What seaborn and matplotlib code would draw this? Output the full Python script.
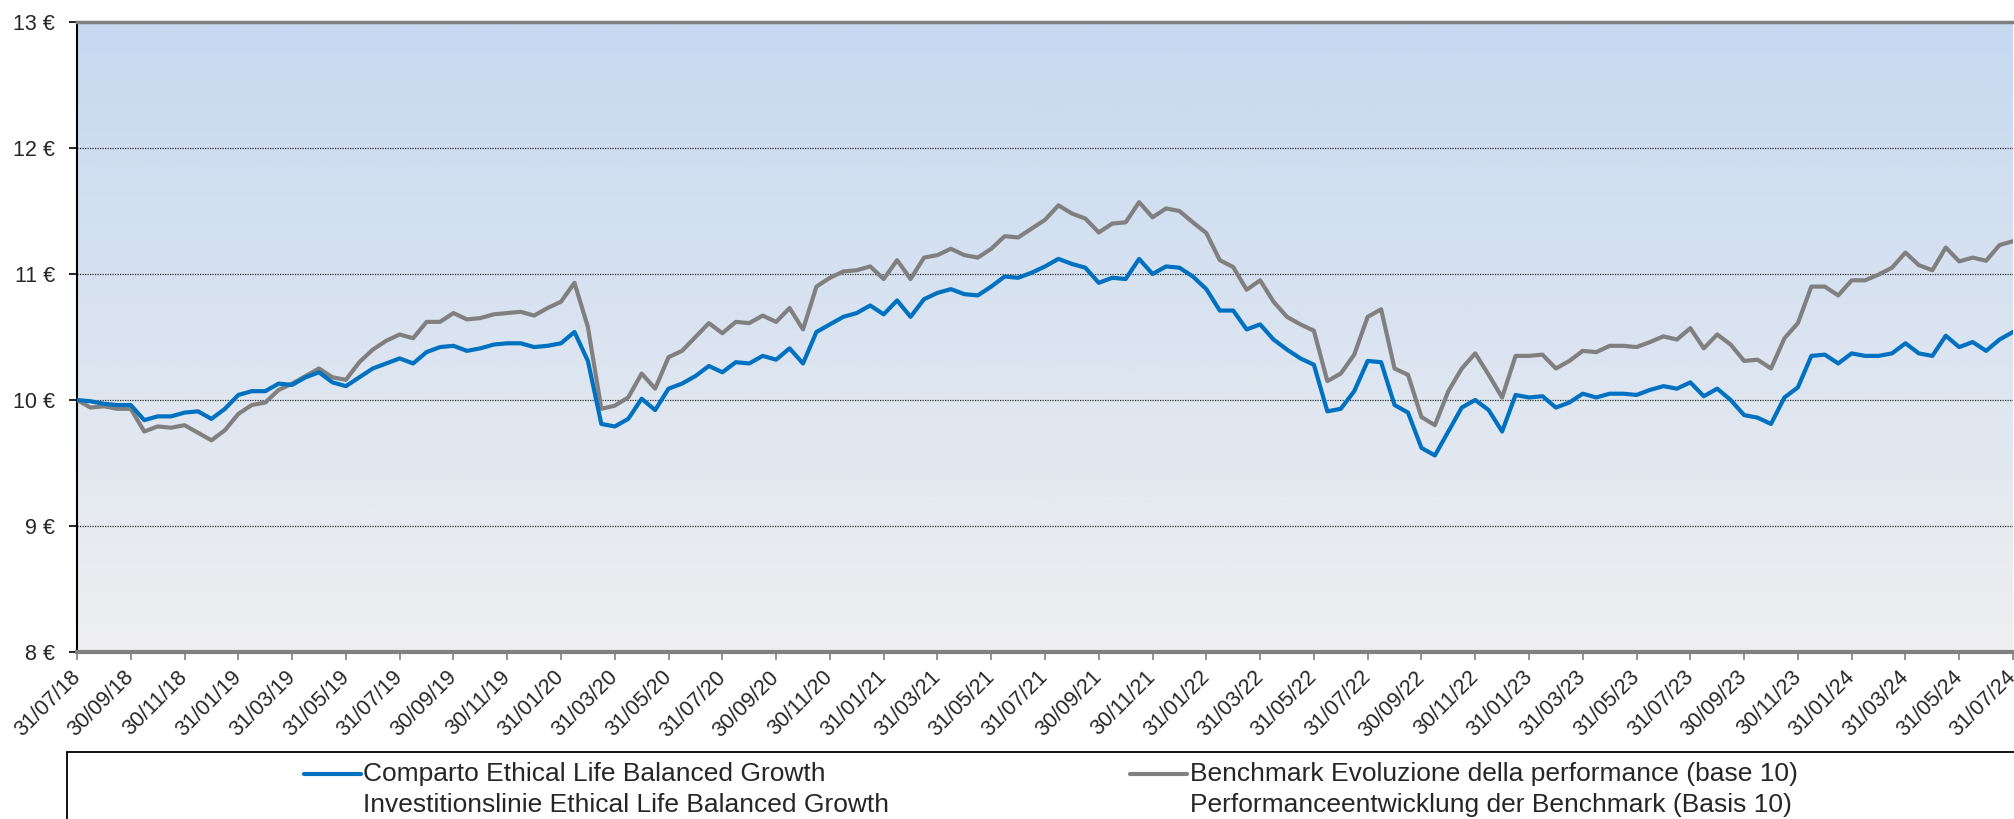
import numpy as np
import pandas as pd
import seaborn as sns
import matplotlib.pyplot as plt
from matplotlib.colors import LinearSegmentedColormap
from matplotlib.lines import Line2D
from matplotlib.patches import Rectangle

# values (two points per month, 31/07/18 .. 31/07/24)
fund = [
    10.00, 9.99, 9.97, 9.96, 9.96, 9.84, 9.87, 9.87, 9.90, 9.91,
    9.85, 9.93, 10.04, 10.07, 10.07, 10.13, 10.12, 10.18, 10.22, 10.14,
    10.11, 10.18, 10.25, 10.29, 10.33, 10.29, 10.38, 10.42, 10.43, 10.39,
    10.41, 10.44, 10.45, 10.45, 10.42, 10.43, 10.45, 10.54, 10.31, 9.81,
    9.79, 9.85, 10.01, 9.92, 10.09, 10.13, 10.19, 10.27, 10.22, 10.30,
    10.29, 10.35, 10.32, 10.41, 10.29, 10.54, 10.60, 10.66, 10.69, 10.75,
    10.68, 10.79, 10.66, 10.80, 10.85, 10.88, 10.84, 10.83, 10.90, 10.98,
    10.97, 11.01, 11.06, 11.12, 11.08, 11.05, 10.93, 10.97, 10.96, 11.12,
    11.00, 11.06, 11.05, 10.98, 10.88, 10.71, 10.71, 10.56, 10.60, 10.48,
    10.40, 10.33, 10.28, 9.91, 9.93, 10.07, 10.31, 10.30, 9.96, 9.90,
    9.62, 9.56, 9.75, 9.94, 10.00, 9.92, 9.75, 10.04, 10.02, 10.03,
    9.94, 9.98, 10.05, 10.02, 10.05, 10.05, 10.04, 10.08, 10.11, 10.09,
    10.14, 10.03, 10.09, 10.00, 9.88, 9.86, 9.81, 10.02, 10.10, 10.35,
    10.36, 10.29, 10.37, 10.35, 10.35, 10.37, 10.45, 10.37, 10.35, 10.51,
    10.42, 10.46, 10.39, 10.48, 10.54,
]
bench = [
    10.00, 9.94, 9.95, 9.93, 9.93, 9.75, 9.79, 9.78, 9.80, 9.74,
    9.68, 9.76, 9.89, 9.96, 9.98, 10.08, 10.13, 10.19, 10.25, 10.18,
    10.16, 10.30, 10.40, 10.47, 10.52, 10.49, 10.62, 10.62, 10.69, 10.64,
    10.65, 10.68, 10.69, 10.70, 10.67, 10.73, 10.78, 10.93, 10.58, 9.93,
    9.955, 10.02, 10.21, 10.09, 10.34, 10.39, 10.50, 10.61, 10.53, 10.62,
    10.61, 10.67, 10.62, 10.73, 10.56, 10.90, 10.97, 11.02, 11.03, 11.06,
    10.96, 11.11, 10.96, 11.13, 11.15, 11.20, 11.15, 11.13, 11.20, 11.30,
    11.29, 11.36, 11.43, 11.545, 11.48, 11.44, 11.33, 11.40, 11.41, 11.57,
    11.45, 11.52, 11.50, 11.41, 11.325, 11.11, 11.055, 10.875, 10.95, 10.78,
    10.66, 10.60, 10.55, 10.15, 10.21, 10.36, 10.66, 10.72, 10.25, 10.20,
    9.865, 9.80, 10.07, 10.25, 10.37, 10.20, 10.02, 10.35, 10.35, 10.36,
    10.25, 10.31, 10.39, 10.38, 10.43, 10.43, 10.42, 10.46, 10.505, 10.48,
    10.57, 10.41, 10.52, 10.44, 10.31, 10.32, 10.25, 10.49, 10.61, 10.90,
    10.90, 10.83, 10.95, 10.95, 10.995, 11.05, 11.17, 11.07, 11.03, 11.21,
    11.10, 11.13, 11.105, 11.23, 11.26,
]
tick_labels = [
    "31/07/18", "30/09/18", "30/11/18", "31/01/19", "31/03/19", "31/05/19",
    "31/07/19", "30/09/19", "30/11/19", "31/01/20", "31/03/20", "31/05/20",
    "31/07/20", "30/09/20", "30/11/20", "31/01/21", "31/03/21", "31/05/21",
    "31/07/21", "30/09/21", "30/11/21", "31/01/22", "31/03/22", "31/05/22",
    "31/07/22", "30/09/22", "30/11/22", "31/01/23", "31/03/23", "31/05/23",
    "31/07/23", "30/09/23", "30/11/23", "31/01/24", "31/03/24", "31/05/24",
    "31/07/24",
]
fund_label = "Comparto Ethical Life Balanced Growth"
fund_label2 = "Investitionslinie Ethical Life Balanced Growth"
bench_label = "Benchmark Evoluzione della performance (base 10)"
bench_label2 = "Performanceentwicklung der Benchmark (Basis 10)"

blue = "#0070C0"
grey = "#808080"

sns.set_style("white")
plt.rcParams["font.family"] = ["Liberation Sans", "DejaVu Sans"]

df = pd.DataFrame({"step": np.arange(len(fund)), "fund": fund, "bench": bench})

W, H = 2014, 819
fig = plt.figure(figsize=(W / 100, H / 100), dpi=100)
ax = fig.add_axes([77 / W, 1 - 652 / H, (2013 - 77) / W, (652 - 22) / H])

# gradient background
cmap = LinearSegmentedColormap.from_list("bg", ["#EFEFF0", "#C6D9F0"])
ax.imshow(np.linspace(0, 1, 256).reshape(-1, 1), cmap=cmap, origin="lower",
          extent=[0, len(fund) - 1, 8, 13], aspect="auto", zorder=0)

sns.lineplot(data=df, x="step", y="bench", color=grey, lw=3, ax=ax, zorder=3)
sns.lineplot(data=df, x="step", y="fund", color=blue, lw=3, ax=ax, zorder=4)

ax.set_xlim(0, len(fund) - 1)
ax.set_ylim(8, 13)
ax.set_xlabel("")
ax.set_ylabel("")

ax.set_yticks(range(8, 14))
ax.set_yticklabels([f"{v} €" for v in range(8, 14)], fontsize=15.5)
ax.set_xticks(np.arange(0, len(fund), 4))
ax.set_xticklabels(tick_labels, fontsize=15.5, rotation=45, ha="right",
                   va="center", rotation_mode="anchor")

for y in range(9, 13):
    ax.axhline(y, color="#303030", lw=0.9, ls=(0, (1, 1)), zorder=2)

ax.tick_params(axis="y", length=6, width=1.2, color="black", pad=10, left=True)
ax.tick_params(axis="x", length=6, width=1.2, color=grey, pad=10, bottom=True)

ax.spines["left"].set_color("black")
ax.spines["left"].set_linewidth(1.5)
ax.spines["bottom"].set_color(grey)
ax.spines["bottom"].set_linewidth(3)
ax.spines["top"].set_color(grey)
ax.spines["top"].set_linewidth(2.5)
ax.spines["right"].set_visible(False)

# legend box below the plot
fig.add_artist(Rectangle((67 / W, -0.05), 1.0, (819 - 752) / H + 0.05,
                         transform=fig.transFigure, fill=False,
                         ec="black", lw=1.3, clip_on=False))
y1 = 1 - 774 / H
y2 = 1 - 805 / H
fig.add_artist(Line2D([304 / W, 361 / W], [y1, y1], transform=fig.transFigure,
                      color=blue, lw=3))
fig.add_artist(Line2D([1130 / W, 1187 / W], [y1, y1], transform=fig.transFigure,
                      color=grey, lw=3))
fig.text(363 / W, y1, fund_label, fontsize=19, va="center")
fig.text(363 / W, y2, fund_label2, fontsize=19, va="center")
fig.text(1190 / W, y1, bench_label, fontsize=19, va="center")
fig.text(1190 / W, y2, bench_label2, fontsize=19, va="center")

fig.savefig("out.png", dpi=100)
